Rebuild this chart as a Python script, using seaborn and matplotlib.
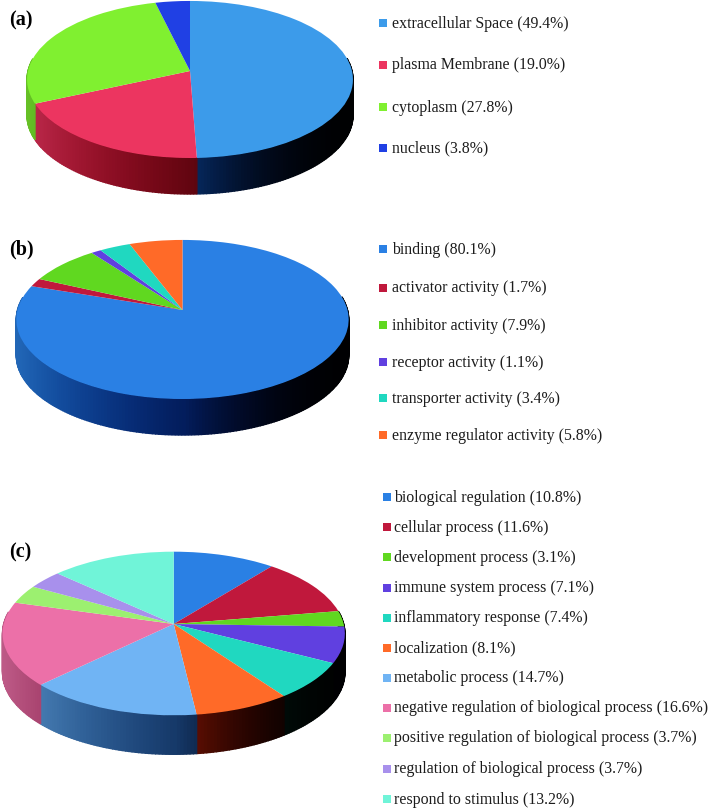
import numpy as np
import matplotlib
matplotlib.use("Agg")
import matplotlib.pyplot as plt
from matplotlib.transforms import Transform
import seaborn as sns

# values as printed in the legends
a_labels = ['extracellular Space', 'plasma Membrane', 'cytoplasm', 'nucleus']
a_values = [49.4, 19.0, 27.8, 3.8]
a_colors = ['#3C9BEA', '#EC3560', '#80F030', '#2040E4']

b_labels = ['binding', 'activator activity', 'inhibitor activity', 'receptor activity',
            'transporter activity', 'enzyme regulator activity']
b_values = [80.1, 1.7, 7.9, 1.1, 3.4, 5.8]
b_colors = ['#2A80E4', '#C0183C', '#60D820', '#6040E0', '#20D8C0', '#FF6A28']

c_labels = ['biological regulation', 'cellular process', 'development process',
            'immune system process', 'inflammatory response', 'localization',
            'metabolic process', 'negative regulation of biological process',
            'positive regulation of biological process', 'regulation of biological process',
            'respond to stimulus']
c_values = [10.8, 11.6, 3.1, 7.1, 7.4, 8.1, 14.7, 16.6, 3.7, 3.7, 13.2]
c_colors = ['#2A80E4', '#C0183C', '#60D820', '#6040E0', '#20D8C0', '#FF6A28',
            '#70B4F4', '#EC70A8', '#9CF070', '#A890EC', '#70F4D8']


# tilts the flat unit pie into pixel coordinates with a bit of perspective
class TiltTransform(Transform):
    input_dims = 2
    output_dims = 2

    def __init__(self, cx, cy, a, b, k):
        super().__init__()
        self.cx, self.cy, self.a, self.b, self.k = cx, cy, a, b, k

    def transform_non_affine(self, values):
        values = np.asarray(values)
        d = 1 + self.k * values[:, 1]
        return np.column_stack([self.cx + self.a * values[:, 0] / d,
                                self.cy - self.b * values[:, 1] / d])


def side_color(color, t):
    # left of the pie is lit, right side falls off to black
    gamma = 2 + t
    if t < 0:
        f = 0.45 - 0.35 * t
    else:
        f = 0.45 * (1 - t) ** 2 + 0.01
    return tuple(np.clip(np.array(color) ** gamma * f, 0, 1))


def draw_pie(ax, values, colors, cx, cy, a, b, k, depth):
    palette = sns.color_palette(colors)
    tilt = TiltTransform(cx, cy, a, b, k)
    edges = 90 - 360 * np.concatenate([[0], np.cumsum(values) / np.sum(values)])

    # side wall, drawn in small strips so it can carry the shading
    for i, color in enumerate(palette):
        n = max(int(edges[i] - edges[i + 1]), 2) + 1
        theta = np.radians(np.linspace(edges[i], edges[i + 1], n))
        rim = tilt.transform(np.column_stack([np.cos(theta), np.sin(theta)]))
        for j in range(n - 1):
            if rim[j:j + 2, 1].max() < cy - 12:
                continue
            t = np.clip((rim[j:j + 2, 0].mean() - cx) / a, -1, 1)
            c = side_color(color, t)
            ax.fill([rim[j, 0], rim[j + 1, 0], rim[j + 1, 0], rim[j, 0]],
                    [rim[j, 1], rim[j + 1, 1], rim[j + 1, 1] + depth, rim[j, 1] + depth],
                    color=c, lw=1.0)

    wedges, _ = ax.pie(values, colors=palette, startangle=90, counterclock=False,
                       wedgeprops={'linewidth': 0})
    for w in wedges:
        w.set_transform(tilt + ax.transData)


def draw_legend(ax, labels, values, colors, ys, x_box, x_text):
    for label, value, color, y in zip(labels, values, colors, ys):
        ax.scatter([x_box], [y], marker='s', s=34, color=color, linewidths=0)
        ax.text(x_text, y + 0.5, f'{label} ({value:.1f}%)', fontsize=11.45, color='#1c1c1c',
                va='center', ha='left')


sns.set_theme(style='white')
plt.rcParams['font.family'] = ['Liberation Serif', 'DejaVu Serif']

fig = plt.figure(figsize=(7.10, 8.09), dpi=100)
ax = fig.add_axes([0, 0, 1, 1])

draw_pie(ax, a_values, a_colors, 190, 71, 162, 77.6, 0.108, 36)
draw_pie(ax, b_values, b_colors, 182.5, 310, 165, 78.4, 0.119, 36)
draw_pie(ax, c_values, c_colors, 173.7, 624, 170, 80.7, 0.116, 39)

draw_legend(ax, a_labels, a_values, a_colors, [23, 64.5, 107, 148], 383, 392)
draw_legend(ax, b_labels, b_values, b_colors, [249, 288, 325, 362, 398, 435], 383, 392)
draw_legend(ax, c_labels, c_values, c_colors,
            [497, 527, 557, 587.5, 618, 648, 678, 708, 738, 768.5, 799], 387, 394)

ax.text(9, 20.5, '(a)', fontsize=14.5, fontweight='bold', color='black', va='center')
ax.text(9, 249.5, '(b)', fontsize=14.5, fontweight='bold', color='black', va='center')
ax.text(9, 552.5, '(c)', fontsize=14.5, fontweight='bold', color='black', va='center')

ax.set_aspect('auto')
ax.set_xlim(0, 710)
ax.set_ylim(809, 0)
ax.axis('off')

fig.savefig('out.png', dpi=100)
